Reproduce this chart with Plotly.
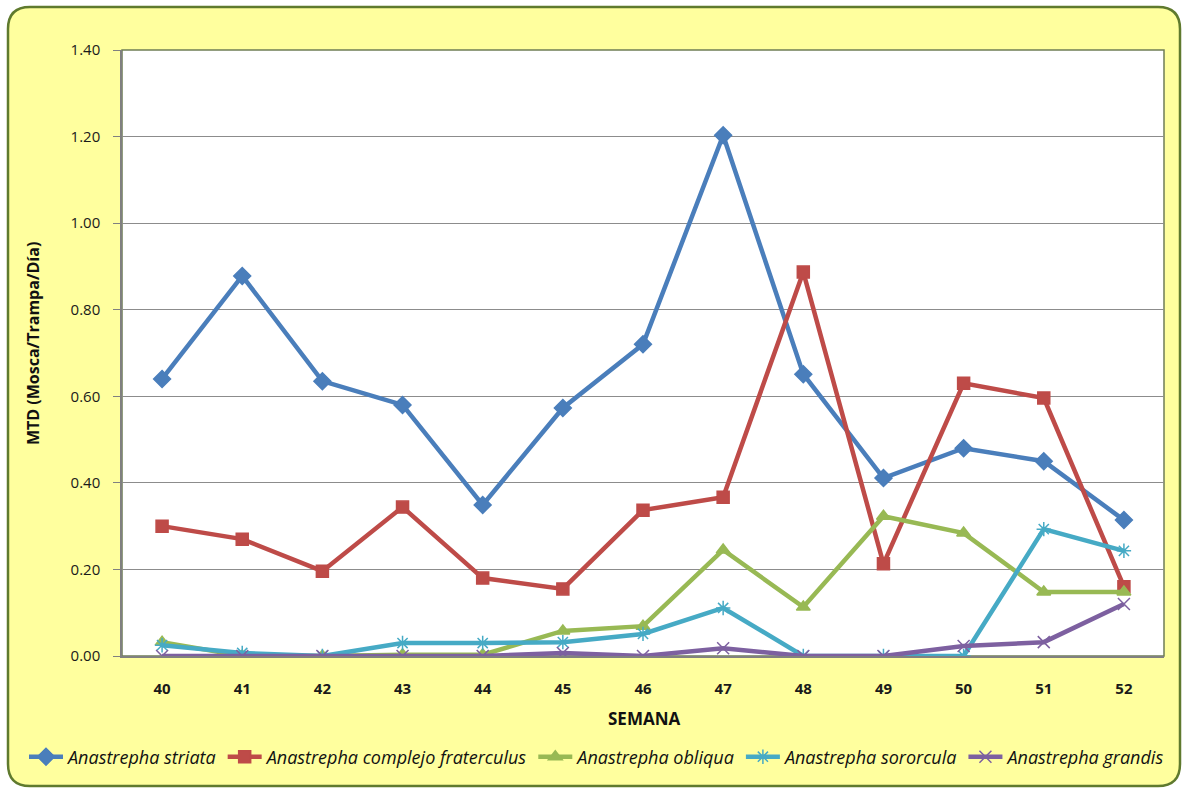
import plotly.graph_objects as go

semanas = ["40", "41", "42", "43", "44", "45", "46", "47", "48", "49", "50", "51", "52"]
striata = [0.64, 0.878, 0.635, 0.58, 0.349, 0.573, 0.72, 1.203, 0.651, 0.411, 0.48, 0.45, 0.314]
fraterculus = [0.30, 0.27, 0.196, 0.344, 0.18, 0.155, 0.337, 0.367, 0.887, 0.213, 0.63, 0.596, 0.16]
obliqua = [0.032, 0.0, 0.0, 0.003, 0.003, 0.058, 0.069, 0.245, 0.113, 0.323, 0.284, 0.148, 0.148]
sororcula = [0.025, 0.007, 0.0, 0.03, 0.03, 0.032, 0.051, 0.111, 0.0, 0.0, 0.0, 0.293, 0.243]
grandis = [0.0, 0.0, 0.0, 0.0, 0.0, 0.007, 0.0, 0.018, 0.0, 0.0, 0.023, 0.032, 0.12]
y_ticks = [0.0, 0.2, 0.4, 0.6, 0.8, 1.0, 1.2, 1.4]

series = [
    ("Anastrepha striata", striata, "#4A7EBB", "diamond", 13),
    ("Anastrepha complejo fraterculus", fraterculus, "#BE4B48", "square", 12),
    ("Anastrepha obliqua", obliqua, "#98B954", "triangle-up", 12),
    ("Anastrepha sororcula", sororcula, "#46AAC5", "asterisk-open", 12),
    ("Anastrepha grandis", grandis, "#7D60A0", "x-thin-open", 12),
]

W, H = 1183, 788
L, R, T, B = 122, 1164, 50, 656

fig = go.Figure()
for name, vals, col, sym, sz in series:
    fig.add_trace(go.Scatter(
        x=semanas, y=vals, name=name, mode="lines+markers",
        line=dict(color=col, width=4.5),
        marker=dict(symbol=sym, size=sz, color=col, line=dict(color=col, width=1.5)),
    ))

def px2x(px):
    return (px - L) / (R - L)

def py2y(py):
    return (B - py) / (B - T)

# rounded outer frame
x0, y0, x1, y1, r = 8, 7, 1180, 786, 22
pts = [
    f"M {px2x(x0 + r)},{py2y(y0)}",
    f"L {px2x(x1 - r)},{py2y(y0)}",
    f"Q {px2x(x1)},{py2y(y0)} {px2x(x1)},{py2y(y0 + r)}",
    f"L {px2x(x1)},{py2y(y1 - r)}",
    f"Q {px2x(x1)},{py2y(y1)} {px2x(x1 - r)},{py2y(y1)}",
    f"L {px2x(x0 + r)},{py2y(y1)}",
    f"Q {px2x(x0)},{py2y(y1)} {px2x(x0)},{py2y(y1 - r)}",
    f"L {px2x(x0)},{py2y(y0 + r)}",
    f"Q {px2x(x0)},{py2y(y0)} {px2x(x0 + r)},{py2y(y0)}",
    "Z",
]
fig.add_shape(type="path", path=" ".join(pts), xref="paper", yref="paper",
              fillcolor="#FFFF9E", line=dict(color="#5F7A2E", width=2.5), layer="below")
fig.add_shape(type="rect", x0=0, x1=1, y0=0, y1=1, xref="paper", yref="paper",
              fillcolor="white", line=dict(color="#6F7D55", width=1.5), layer="below")

FONT = "Open Sans, Lato, sans-serif"

fig.update_layout(
    width=W, height=H,
    margin=dict(l=L, r=W - R, t=T, b=H - B),
    paper_bgcolor="white",
    plot_bgcolor="rgba(0,0,0,0)",
    font=dict(family=FONT, color="#1a1a1a"),
    showlegend=True,
    legend=dict(orientation="h", x=px2x(24), xanchor="left", y=py2y(757), yanchor="middle",
                bgcolor="rgba(0,0,0,0)", font=dict(size=18, style="italic", color="#111"),
                itemwidth=34, tracegroupgap=0),
    xaxis=dict(
        type="category", showgrid=False, showline=True, linecolor="#808080", linewidth=1.5,
        mirror=False, ticks="", tickfont=dict(size=15, weight="bold", color="#1a1a1a"),
        ticklabelstandoff=18, range=[-0.5, 12.5],
    ),
    yaxis=dict(
        range=[0, 1.4], tickvals=y_ticks, tickformat=".2f", showgrid=True, gridcolor="#8C8C8C",
        gridwidth=1, showline=True, linecolor="#808080", linewidth=1.5, ticks="outside",
        ticklen=7, tickcolor="#808080", tickfont=dict(size=15, color="#1a1a1a"),
        ticklabelstandoff=10, zeroline=False,
    ),
    annotations=[
        dict(text="<b>MTD (Mosca/Trampa/Día)</b>", xref="paper", yref="paper",
             x=px2x(33), y=py2y(344), textangle=-90, showarrow=False,
             font=dict(size=16, color="#111"), xanchor="center", yanchor="middle"),
        dict(text="<b>SEMANA</b>", xref="paper", yref="paper",
             x=px2x(644), y=py2y(718), showarrow=False,
             font=dict(size=17, color="#111"), xanchor="center", yanchor="middle"),
    ],
)

fig.write_html("out.html")
